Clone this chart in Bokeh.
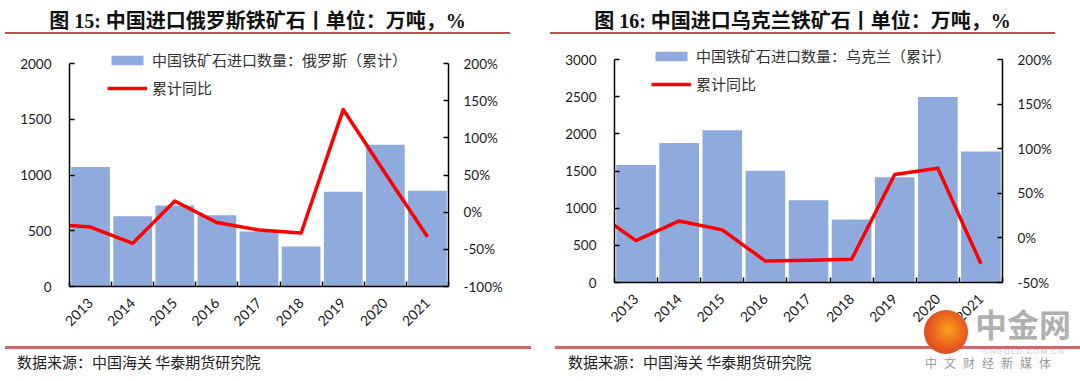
import math
from bokeh.plotting import figure
from bokeh.models import (Range1d, LinearAxis, FixedTicker, SingleIntervalTicker,
                          PrintfTickFormatter, Legend, LegendItem, Div)
from bokeh.layouts import row, column
from bokeh.embed import file_html
from bokeh.resources import INLINE

# ---------------- data ----------------
years = ["2013", "2014", "2015", "2016", "2017", "2018", "2019", "2020", "2021"]

russia_qty = [1072, 629, 727, 638, 494, 359, 850, 1272, 859]          # 万吨
russia_yoy_edge = -18                                                   # % (line start at axis edge)
russia_yoy = [-20, -42, 15, -14, -24, -28, 138, 52, -33]               # %

ukraine_qty = [1581, 1876, 2047, 1505, 1106, 846, 1415, 2494, 1764]    # 万吨
ukraine_yoy_edge = 14
ukraine_yoy = [-3, 19, 9, -26, -25, -24, 71, 78, -29]

titles = ["图 15: 中国进口俄罗斯铁矿石丨单位：万吨，%",
          "图 16: 中国进口乌克兰铁矿石丨单位：万吨，%"]
bar_labels = ["中国铁矿石进口数量：俄罗斯（累计）", "中国铁矿石进口数量：乌克兰（累计）"]
line_label = "累计同比"
source = "数据来源：中国海关 华泰期货研究院"

BAR = "#8faadc"
RED = "#ff0000"
TICK_FONT = "Lato"
CJK = "Noto Sans CJK SC"
COLW = 540
FIG_H = 310
AXIS_PX = 223      # pixel height of the value scale


def make_chart(qty, yoy_edge, yoy, ymax, yint, pmin, pmax, bar_label,
               bl, br, ext, bb, legend_loc):
    n = len(years)
    idx = list(range(n))
    x_start, x_end = -0.5, n - 0.5
    # extend the frame above the top tick so the legend fits (axis stops at top tick)
    y_end = ymax + ymax * ext / AXIS_PX
    p_end = pmax + (pmax - pmin) * ext / AXIS_PX
    bt = FIG_H - bb - AXIS_PX - ext
    p = figure(width=COLW, height=FIG_H, x_range=Range1d(x_start, x_end),
               y_range=Range1d(0, y_end), output_backend="svg",
               toolbar_location=None, title=None,
               min_border_left=bl, min_border_right=br,
               min_border_top=bt, min_border_bottom=bb)
    p.extra_y_ranges = {"pct": Range1d(pmin, p_end)}
    p.outline_line_color = None
    p.background_fill_color = "white"
    p.border_fill_color = "white"
    p.xgrid.visible = False
    p.ygrid.visible = False

    bars = p.vbar(x=idx, top=qty, width=0.92, fill_color=BAR, line_color=None)
    ln = p.line(x=[x_start] + idx, y=[yoy_edge] + yoy, y_range_name="pct",
                line_color=RED, line_width=3.5, line_join="round")

    # x axis
    xa = p.xaxis[0]
    xa.ticker = FixedTicker(ticks=idx, minor_ticks=[i - 0.5 for i in range(n + 1)])
    xa.major_label_overrides = {i: y for i, y in enumerate(years)}
    xa.major_label_orientation = math.pi / 4
    xa.major_tick_line_color = None
    xa.minor_tick_in = 5
    xa.minor_tick_out = 0
    xa.minor_tick_line_color = "black"
    xa.major_label_standoff = 8

    # left axis
    ya = p.yaxis[0]
    ya.ticker = SingleIntervalTicker(interval=yint, num_minor_ticks=0)
    ya.bounds = (0, ymax)
    ya.major_tick_in = 5
    ya.major_tick_out = 0
    ya.minor_tick_line_color = None
    ya.major_label_standoff = 18

    ra = LinearAxis(y_range_name="pct",
                    ticker=SingleIntervalTicker(interval=50, num_minor_ticks=0),
                    formatter=PrintfTickFormatter(format="%d%%"),
                    bounds=(pmin, pmax))
    ra.major_tick_in = 5
    ra.major_tick_out = 0
    ra.minor_tick_line_color = None
    ra.major_label_standoff = 15
    p.add_layout(ra, "right")

    for ax in (xa, ya, ra):
        ax.axis_line_color = "black"
        ax.axis_line_width = 1.5
        ax.major_tick_line_width = 1.5
        ax.minor_tick_line_width = 1.5
        ax.major_label_text_font = TICK_FONT
        ax.major_label_text_font_size = "13.5px"
        ax.major_label_text_color = "#1a1a1a"
    xa.major_label_text_font_size = "14px"

    legend = Legend(items=[LegendItem(label=bar_label, renderers=[bars]),
                           LegendItem(label=line_label, renderers=[ln])],
                    location=legend_loc, orientation="vertical",
                    background_fill_alpha=0, border_line_color=None,
                    label_text_font=CJK, label_text_font_size="15px",
                    label_text_color="#333333",
                    glyph_width=40, glyph_height=12, label_height=20,
                    spacing=7, padding=0, margin=0, label_standoff=5)
    p.add_layout(legend, "center")
    return p


def title_div(text, line_left, line_width):
    html = (
        f'<div style="position:relative;width:{COLW}px;height:35px;">'
        f'<div style="position:absolute;left:{line_left}px;top:32px;width:{line_width}px;'
        f'height:2px;background:#c0504d;"></div>'
        f'<div style="position:absolute;left:{line_left}px;top:9px;width:{line_width}px;'
        f'text-align:center;font-weight:bold;font-size:20px;line-height:24px;'
        f"font-family:'Liberation Serif','{CJK}';color:#111;white-space:nowrap;\">{text}</div>"
        f'</div>')
    return Div(text=html, width=COLW, height=35, margin=(0, 0, 0, 0))


def footer_div(line_left, line_width, text_left, extra=""):
    html = (
        f'<div style="position:relative;width:{COLW}px;height:36px;">'
        f'<div style="position:absolute;left:{line_left}px;top:1px;width:{line_width}px;'
        f'height:3px;background:#cc6a6a;"></div>'
        f'<div style="position:absolute;left:{text_left}px;top:8px;font-size:15px;'
        f"line-height:18px;font-family:'{CJK}';color:#222;white-space:nowrap;\">{source}</div>"
        f'{extra}</div>')
    return Div(text=html, width=COLW, height=36, margin=(0, 0, 0, 0))


watermark = (
    '<div style="position:absolute;left:384px;top:-35px;width:44px;height:44px;'
    'border-radius:50%;background:radial-gradient(circle at 55% 45%,#f7a21b 0%,#e8581f 55%,#d2361c 100%);"></div>'
    '<div style="position:absolute;left:435px;top:-39px;font-size:32px;font-weight:bold;'
    "line-height:34px;font-family:'Noto Sans CJK SC';color:#b0b0b0;white-space:nowrap;\">中金网</div>"
    '<div style="position:absolute;left:443px;top:3px;font-size:8px;line-height:8px;'
    "font-family:'Liberation Sans';color:#c8c8c8;letter-spacing:1px;white-space:nowrap;\">CNGOLD.COM.CN</div>"
    '<div style="position:absolute;left:385px;top:10px;font-size:12px;line-height:16px;'
    "font-family:'Noto Sans CJK SC';color:#999;letter-spacing:7px;white-space:nowrap;\">中文财经新媒体</div>"
)

p1 = make_chart(russia_qty, russia_yoy_edge, russia_yoy, 2000, 500, -100, 200,
                bar_labels[0], bl=69, br=92, ext=18, bb=59, legend_loc=(38, 188))
p2 = make_chart(ukraine_qty, ukraine_yoy_edge, ukraine_yoy, 3000, 500, -50, 200,
                bar_labels[1], bl=74, br=78, ext=14, bb=63, legend_loc=(37, 188))

col1 = column(title_div(titles[0], 5, 505), p1, footer_div(5, 526, 17), spacing=0)
col2 = column(title_div(titles[1], 10, 505), p2, footer_div(15, 525, 28, watermark), spacing=0)
layout = row(col1, col2, spacing=0)

open("out.html", "w").write(file_html(layout, INLINE))
